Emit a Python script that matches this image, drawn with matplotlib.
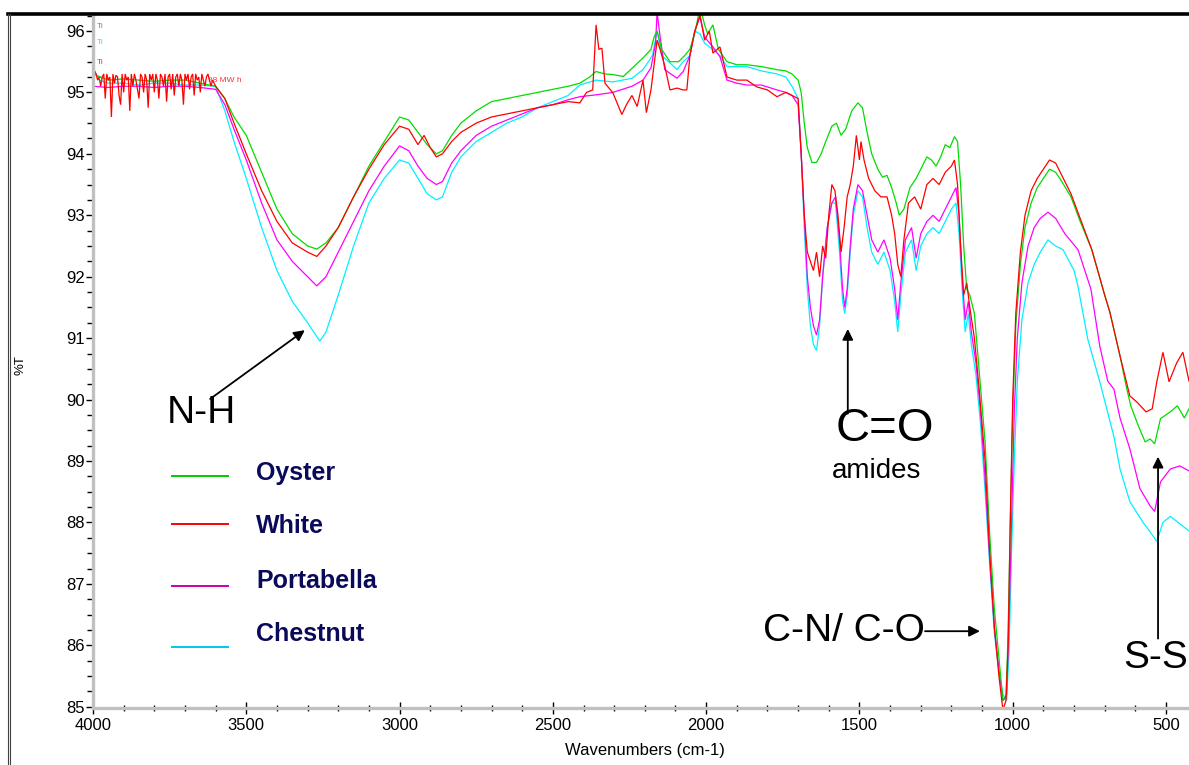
import matplotlib
matplotlib.use("Agg")
import matplotlib.pyplot as plt
from matplotlib.lines import Line2D
import numpy as np

plt.rcParams['font.family'] = ['Liberation Sans', 'DejaVu Sans']

# ---------------- data ----------------
noise_wn = [4000 - 5 * i for i in range(81)]

oyster_wn = [4000, 3950, 3900, 3850, 3800, 3750, 3700, 3650, 3600, 3570, 3540, 3500, 3450, 3400,
             3350, 3300, 3270, 3240, 3200, 3150, 3100, 3050, 3000, 2970, 2940, 2910, 2880, 2860,
             2830, 2800, 2750, 2700, 2650, 2600, 2550, 2500, 2450, 2412, 2380, 2359, 2330, 2304,
             2270, 2240, 2206, 2180, 2170, 2160, 2145, 2118, 2090, 2070, 2053, 2035, 2020, 2005,
             1995, 1978, 1960, 1932, 1900, 1867, 1820, 1769, 1740, 1720, 1700, 1690, 1680, 1670,
             1655, 1640, 1625, 1610, 1590, 1575, 1560, 1545, 1525, 1505, 1490, 1475, 1460, 1440,
             1425, 1410, 1395, 1380, 1370, 1355, 1335, 1315, 1300, 1280, 1265, 1250, 1235, 1220,
             1205, 1190, 1180, 1170, 1160, 1150, 1140, 1125, 1110, 1090, 1075, 1060, 1045, 1032,
             1022, 1015, 1008, 1000, 990, 975, 960, 940, 920, 900, 880, 860, 840, 810, 780, 742,
             700, 683, 650, 630, 615, 590, 568, 552, 537, 518, 486, 463, 440, 425]
oyster_t = [95.3, 95.2, 95.22, 95.2, 95.18, 95.2, 95.2, 95.15, 95.1, 94.9, 94.6, 94.3, 93.7, 93.1,
            92.7, 92.5, 92.45, 92.55, 92.8, 93.3, 93.8, 94.2, 94.6, 94.55, 94.35, 94.15, 94.0, 94.05,
            94.3, 94.5, 94.7, 94.85, 94.9, 94.95, 95.0, 95.05, 95.1, 95.15, 95.25, 95.34, 95.3, 95.29,
            95.26, 95.4, 95.56, 95.7, 95.9, 96.0, 95.7, 95.5, 95.5, 95.6, 95.7, 96.0, 96.4, 96.1,
            95.95, 96.1, 95.7, 95.5, 95.45, 95.45, 95.42, 95.37, 95.35, 95.3, 95.2, 95.0, 94.5, 94.1,
            93.86, 93.86, 94.0, 94.2, 94.45, 94.5, 94.3, 94.4, 94.7, 94.83, 94.75, 94.35, 94.0, 93.75,
            93.62, 93.65, 93.45, 93.2, 93.0, 93.1, 93.45, 93.6, 93.75, 93.95, 93.9, 93.8, 93.95, 94.15,
            94.1, 94.28, 94.2, 93.5, 92.5, 91.8, 91.7, 91.4, 90.5, 89.3, 87.8, 86.6, 85.8, 85.1,
            85.15, 86.2, 88.0, 89.8, 91.2, 92.2, 92.8, 93.2, 93.45, 93.6, 93.75, 93.7, 93.55, 93.3, 92.9, 92.44,
            91.7, 91.42, 90.71, 90.22, 89.9, 89.57, 89.31, 89.36, 89.28, 89.69, 89.8, 89.9, 89.7, 89.85]

white_noise = [95.4, 95.35, 95.3, 95.2, 95.25, 95.1, 95.25, 95.3, 94.9, 95.3, 95.2, 95.25, 94.6, 95.3,
               95.15, 95.28, 95.25, 94.95, 94.8, 95.3, 95.0, 95.3, 95.2, 95.25, 94.7, 95.3, 95.1, 95.3,
               95.2, 95.05, 94.9, 95.3, 95.25, 95.0, 95.3, 95.2, 94.75, 95.3, 95.2, 95.3, 95.0, 95.3,
               95.2, 94.9, 95.3, 95.25, 95.1, 95.3, 94.85, 95.25, 95.3, 95.05, 95.3, 94.95, 95.25, 95.3,
               95.1, 95.3, 95.2, 94.8, 95.3, 95.2, 95.3, 95.05, 95.25, 95.3, 94.95, 95.3, 95.2, 95.25,
               95.0, 95.3, 95.2, 95.1, 95.25, 95.3, 95.2, 95.1, 95.2, 95.15, 95.1]
white_wn_rest = [3570, 3540, 3500, 3450, 3400, 3350, 3300, 3270, 3240, 3200, 3150, 3100, 3050, 3000,
                 2970, 2940, 2920, 2900, 2880, 2860, 2830, 2800, 2750, 2700, 2650, 2600, 2550, 2500,
                 2450, 2412, 2390, 2370, 2359, 2350, 2340, 2330, 2304, 2275, 2260, 2242, 2225, 2206,
                 2195, 2180, 2160, 2150, 2135, 2118, 2095, 2075, 2063, 2053, 2037, 2020, 2005, 1990,
                 1978, 1955, 1932, 1900, 1867, 1835, 1800, 1769, 1740, 1720, 1700, 1690, 1680, 1670,
                 1660, 1650, 1640, 1630, 1620, 1610, 1600, 1590, 1580, 1570, 1560, 1550, 1540, 1530,
                 1520, 1510, 1500, 1495, 1485, 1470, 1450, 1430, 1410, 1395, 1385, 1375, 1365, 1355,
                 1340, 1320, 1300, 1280, 1260, 1240, 1220, 1200, 1190, 1180, 1170, 1160, 1150, 1140,
                 1125, 1110, 1090, 1075, 1060, 1045, 1032, 1022, 1015, 1008, 1000, 990, 975, 960, 940,
                 920, 900, 880, 860, 840, 810, 780, 742, 700, 683, 650, 630, 618, 595, 565, 545, 530,
                 510, 490, 465, 445, 425]
white_t_rest = [94.9, 94.5, 94.0, 93.4, 92.9, 92.55, 92.4, 92.33, 92.5, 92.8, 93.3, 93.75, 94.15, 94.45,
                94.4, 94.15, 94.3, 94.1, 93.95, 94.0, 94.2, 94.35, 94.5, 94.6, 94.65, 94.7, 94.75, 94.8,
                94.85, 94.83, 95.0, 95.04, 96.1, 95.7, 95.72, 95.15, 94.99, 94.64, 94.8, 94.95, 94.77, 95.2,
                94.67, 95.04, 95.85, 95.7, 95.43, 95.04, 95.07, 95.04, 95.04, 95.6, 96.0, 96.26, 95.85, 96.0,
                95.64, 95.74, 95.25, 95.2, 95.2, 95.09, 95.04, 94.93, 95.0, 94.95, 94.9, 94.0, 93.0, 92.4,
                92.25, 92.1, 92.4, 92.0, 92.5, 92.3, 93.0, 93.5, 93.4, 93.0, 92.4, 92.8, 93.3, 93.5,
                93.8, 94.3, 93.9, 94.2, 93.9, 93.6, 93.4, 93.3, 93.3, 93.0, 92.7, 92.2, 92.0, 92.6,
                93.2, 93.3, 93.1, 93.5, 93.6, 93.5, 93.7, 93.8, 93.9, 93.5, 92.5, 91.7, 91.9, 91.5,
                91.0, 90.2, 89.0, 87.5, 86.3, 85.5, 84.95, 85.1, 86.0, 88.0, 90.0, 91.4, 92.4, 93.0, 93.4,
                93.6, 93.75, 93.9, 93.85, 93.65, 93.35, 92.95, 92.44, 91.7, 91.42, 90.71, 90.3, 90.06, 89.96, 89.8, 89.85, 90.29,
                90.77, 90.29, 90.6, 90.77, 90.3]
white_wn = noise_wn + white_wn_rest
white_t = white_noise + white_t_rest

porta_wn = [4000, 3950, 3900, 3850, 3800, 3750, 3700, 3650, 3600, 3570, 3540, 3500, 3450, 3400, 3350,
            3300, 3270, 3240, 3200, 3150, 3100, 3050, 3000, 2970, 2940, 2910, 2880, 2860, 2830, 2800,
            2750, 2700, 2650, 2600, 2550, 2500, 2450, 2412, 2359, 2304, 2242, 2206, 2180, 2165, 2160,
            2150, 2135, 2095, 2075, 2053, 2037, 2020, 2005, 1978, 1955, 1932, 1900, 1867, 1820, 1769,
            1740, 1720, 1700, 1690, 1680, 1670, 1660, 1650, 1640, 1630, 1620, 1605, 1590, 1578, 1565,
            1555, 1548, 1540, 1530, 1520, 1505, 1490, 1475, 1460, 1440, 1420, 1400, 1385, 1375, 1365,
            1350, 1330, 1315, 1300, 1280, 1260, 1240, 1220, 1200, 1185, 1175, 1165, 1155, 1145, 1135,
            1120, 1105, 1090, 1075, 1060, 1045, 1032, 1020, 1012, 1004, 995, 985, 970, 950, 930, 910,
            885, 860, 830, 787, 745, 716, 690, 670, 650, 618, 585, 552, 537, 518, 486, 455, 425]
porta_t = [95.1, 95.08, 95.1, 95.1, 95.08, 95.1, 95.1, 95.08, 95.05, 94.8, 94.4, 93.9, 93.2, 92.6, 92.25,
           92.0, 91.85, 92.0, 92.4, 92.9, 93.4, 93.8, 94.13, 94.05, 93.8, 93.6, 93.5, 93.55, 93.85, 94.05,
           94.3, 94.45, 94.55, 94.65, 94.75, 94.8, 94.88, 94.93, 94.96, 95.0, 95.1, 95.2, 95.4, 95.8, 96.3,
           95.9, 95.37, 95.23, 95.34, 95.6, 96.0, 96.23, 95.9, 95.74, 95.58, 95.2, 95.15, 95.12, 95.12, 95.04,
           95.0, 94.95, 94.8, 94.0, 93.0, 92.0, 91.5, 91.2, 91.05, 91.3, 92.0, 92.8, 93.2, 93.3, 92.6,
           91.8, 91.5, 91.8, 92.5, 93.1, 93.5, 93.4, 93.0, 92.6, 92.4, 92.6, 92.3, 91.8, 91.3, 91.9,
           92.6, 92.8, 92.3, 92.7, 92.9, 93.0, 92.9, 93.1, 93.3, 93.45, 93.0, 92.0, 91.3, 91.6, 91.1,
           90.6, 89.8, 88.7, 87.4, 86.3, 85.6, 85.1, 85.2, 86.4, 88.0, 89.8, 91.0, 91.9, 92.5, 92.8, 92.95,
           93.05, 92.95, 92.7, 92.44, 91.8, 90.87, 90.3, 90.17, 89.7, 89.2, 88.55, 88.27, 88.18, 88.66, 88.87, 88.92, 88.84]

chest_wn = [4000, 3980, 3950, 3900, 3850, 3800, 3750, 3700, 3650, 3600, 3570, 3540, 3500, 3450, 3400,
            3350, 3300, 3280, 3260, 3240, 3200, 3150, 3100, 3050, 3000, 2970, 2940, 2910, 2880, 2860,
            2830, 2800, 2750, 2700, 2650, 2600, 2550, 2500, 2450, 2412, 2359, 2304, 2242, 2206, 2175,
            2160, 2145, 2118, 2095, 2075, 2053, 2037, 2020, 2005, 1978, 1955, 1932, 1867, 1820, 1769,
            1740, 1720, 1700, 1690, 1680, 1670, 1660, 1650, 1640, 1630, 1620, 1605, 1590, 1578, 1565,
            1555, 1548, 1540, 1530, 1520, 1505, 1490, 1475, 1460, 1440, 1420, 1400, 1385, 1375, 1365,
            1350, 1330, 1315, 1300, 1280, 1260, 1240, 1220, 1200, 1185, 1175, 1165, 1155, 1145, 1135,
            1120, 1105, 1090, 1075, 1060, 1045, 1032, 1020, 1012, 1004, 995, 985, 970, 950, 930, 910,
            885, 860, 836, 800, 787, 755, 716, 670, 650, 618, 575, 552, 530, 510, 486, 455, 425]
chest_t = [95.4, 95.2, 95.15, 95.15, 95.12, 95.15, 95.15, 95.12, 95.12, 95.1, 94.7, 94.2, 93.6, 92.8, 92.1,
           91.6, 91.25, 91.1, 90.95, 91.1, 91.7, 92.5, 93.2, 93.6, 93.9, 93.85, 93.6, 93.35, 93.25, 93.3,
           93.7, 93.95, 94.2, 94.35, 94.5, 94.6, 94.75, 94.85, 94.95, 95.12, 95.2, 95.17, 95.23, 95.37, 95.6,
           96.0, 95.6, 95.48, 95.37, 95.5, 95.6, 96.0, 95.95, 95.8, 95.7, 95.6, 95.42, 95.42, 95.35, 95.3,
           95.25, 95.1, 94.9, 94.0, 92.8, 91.8, 91.2, 90.9, 90.8, 91.2, 92.0, 92.8, 93.2, 93.2, 92.4,
           91.6, 91.4, 91.7, 92.4, 93.0, 93.4, 93.3, 92.8, 92.4, 92.2, 92.4, 92.1, 91.6, 91.1, 91.7,
           92.4, 92.6, 92.1, 92.5, 92.7, 92.8, 92.7, 92.9, 93.1, 93.2, 92.7, 91.8, 91.1, 91.4, 90.9,
           90.4, 89.6, 88.5, 87.3, 86.2, 85.6, 85.2, 85.1, 85.9, 87.5, 89.0, 90.3, 91.3, 91.9, 92.2, 92.4,
           92.6, 92.5, 92.44, 92.1, 91.84, 90.98, 90.29, 89.4, 88.87, 88.34, 88.0, 87.85, 87.69, 88.0, 88.1, 87.98, 87.86]

series_names = ['Oyster', 'White', 'Portabella', 'Chestnut']
series_colors = ['#00dd00', '#ff0000', '#ff00ff', '#00f0ff']
legend_colors = ['#00cc00', '#ff0000', '#cc00aa', '#00c8f0']
y_ticks = list(range(85, 97))
x_ticks = [4000, 3500, 3000, 2500, 2000, 1500, 1000, 500]

# ---------------- figure ----------------
W, H = 1189, 765
fig = plt.figure(figsize=(W / 100, H / 100), dpi=100)
fig.patch.set_facecolor('white')

def fx(px):
    return px / W

def fy(py):
    return 1 - py / H

ax = fig.add_axes([fx(93), fy(708), fx(W) - fx(93), fy(14) - fy(708)])
ax.set_xlim(4000, 425)
ax.set_ylim(84.98, 96.276)

data = {
    'Chestnut': (chest_wn, chest_t),
    'Portabella': (porta_wn, porta_t),
    'Oyster': (oyster_wn, oyster_t),
    'White': (white_wn, white_t),
}
cmap = dict(zip(series_names, series_colors))
for name in ['Chestnut', 'Portabella', 'Oyster', 'White']:
    xw, yt = data[name]
    ax.plot(xw, yt, color=cmap[name], lw=0.9, solid_joinstyle='miter')

# spines
ax.spines['right'].set_visible(False)
ax.spines['top'].set_visible(False)
ax.spines['left'].set_color('#c0c0c0')
ax.spines['left'].set_linewidth(2.4)
ax.spines['bottom'].set_color('#c0c0c0')
ax.spines['bottom'].set_linewidth(2.4)

ax.set_yticks(y_ticks)
ax.set_yticks(np.arange(85, 96.3, 0.25), minor=True)
ax.set_xticks(x_ticks)
ax.set_xticks(np.arange(500, 4001, 100), minor=True)
ax.tick_params(axis='y', which='major', direction='out', length=5, width=1, color='black',
               labelsize=12, pad=1)
ax.tick_params(axis='y', which='minor', direction='out', length=4, width=1, color='black')
ax.tick_params(axis='x', which='major', direction='inout', length=9, width=1, color='black',
               labelsize=12, pad=3)
ax.tick_params(axis='x', which='minor', direction='inout', length=5, width=1, color='black')

# frame lines
fig.add_artist(Line2D([fx(8), fx(W)], [fy(14), fy(14)], color='black', lw=2.6))
fig.add_artist(Line2D([fx(8), fx(8)], [0, fy(14)], color='#404040', lw=0.8))
fig.add_artist(Line2D([fx(10), fx(10)], [0, fy(14)], color='#404040', lw=0.8))

fig.text(fx(20), fy(365), '%T', rotation=90, ha='center', va='center', fontsize=9.5)
fig.text(fx(645), fy(751), 'Wavenumbers (cm-1)', ha='center', va='center', fontsize=12)

# small spectrum titles
fig.text(fx(97), fy(27), 'Ti', color='#00dd00', fontsize=6, va='center')
fig.text(fx(97), fy(43), 'Ti', color='#00f0ff', fontsize=6, va='center')
fig.text(fx(97), fy(62), 'Ti', color='#ff00ff', fontsize=6, va='center')
fig.text(fx(97), fy(80), 'Ti', color='#ff3030', fontsize=6, va='center')
fig.text(fx(208), fy(80), '98 MW h', color='#ff3030', fontsize=6, va='center')

# legend
line_y = [476, 524, 586, 647]
text_y = [473, 526, 581, 634]
for name, col, ly, ty in zip(series_names, legend_colors, line_y, text_y):
    fig.add_artist(Line2D([fx(172), fx(228)], [fy(ly), fy(ly)], color=col, lw=1.4))
    fig.text(fx(256), fy(ty), name, color='#0a0a5a', fontsize=18, fontweight='bold',
             va='center', ha='left')

# annotations
ap = dict(arrowstyle='-|>', color='black', lw=1.3, mutation_scale=16, shrinkA=0, shrinkB=0)
ax.annotate('', xy=(3309, 91.13), xytext=(3618, 90.01), arrowprops=ap)
ax.text(3759, 89.78, 'N-H', fontsize=28, ha='left', va='center')
ax.annotate('', xy=(1538, 91.15), xytext=(1538, 89.77), arrowprops=ap)
ax.text(1417, 89.52, 'C=O', fontsize=34, ha='center', va='center')
ax.text(1443, 88.84, 'amides', fontsize=20, ha='center', va='center')
ax.annotate('', xy=(1107, 86.23), xytext=(1286, 86.23), arrowprops=ap)
ax.text(1286, 86.23, 'C-N/ C-O', fontsize=28, ha='right', va='center')
ax.annotate('', xy=(526, 89.07), xytext=(526, 86.11), arrowprops=ap)
ax.text(638, 85.79, 'S-S', fontsize=28, ha='left', va='center', clip_on=False)

fig.savefig('out.png', dpi=100)
